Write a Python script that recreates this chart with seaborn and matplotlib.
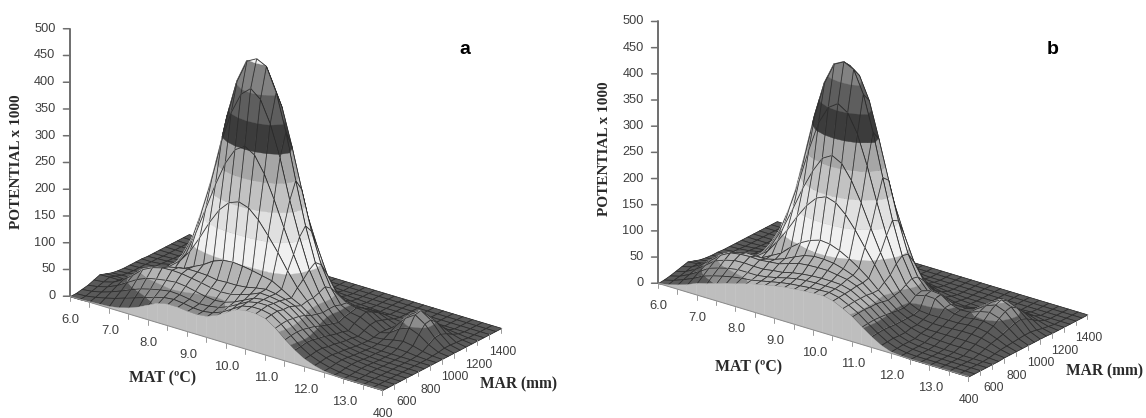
import numpy as np
import seaborn as sns
import matplotlib
matplotlib.use("Agg")
import matplotlib.pyplot as plt
from mpl_toolkits.mplot3d import proj3d
from mpl_toolkits.mplot3d.art3d import Poly3DCollection

sns.set_theme(style="white")
plt.rcParams['font.family'] = ['Liberation Sans', 'DejaVu Sans']

# grid: MAT every 0.25, MAR every 50
mat_values = [6 + 0.25 * k for k in range(33)]
mar_values = [400 + 50 * k for k in range(21)]

# rows go from MAR 400 to MAR 1400
potential_a = [
    [0,0,1,2,3,6,11,18,27,36,40,40,38,37,39,46,57,68,72,72,68,56,40,26,15,8,3,1,0,0,0,0,0],
    [0,1,4,8,13,19,25,31,37,42,44,42,39,38,41,48,59,70,74,74,70,58,42,27,16,9,4,1,0,0,0,0,0],
    [2,4,8,14,21,29,36,41,45,48,47,44,41,42,45,52,62,72,76,76,71,59,43,29,18,11,6,3,1,0,0,0,0],
    [4,7,12,20,31,42,50,54,57,59,57,53,49,47,49,55,64,73,76,74,68,57,42,28,18,11,7,4,2,1,0,0,0],
    [8,10,15,25,39,55,64,69,70,69,66,63,59,57,58,63,69,77,76,73,68,55,39,25,15,9,6,4,2,1,0,0,0],
    [12,13,13,23,36,49,59,65,69,72,72,71,68,69,69,71,75,78,75,70,63,51,36,23,14,8,4,2,1,0,0,0,0],
    [8,9,8,15,24,38,48,55,62,71,80,92,99,101,99,96,92,88,78,67,58,45,31,19,11,6,3,1,0,0,0,0,0],
    [4,5,6,11,20,30,50,65,88,119,153,182,201,208,202,185,161,135,106,80,61,42,27,16,9,4,2,1,0,0,0,0,0],
    [2,3,6,11,20,31,49,73,117,167,218,263,294,306,295,265,223,176,131,90,61,39,24,14,8,3,1,0,0,0,0,0,0],
    [1,2,4,9,17,31,57,95,152,216,292,352,392,408,393,353,295,221,158,102,65,40,20,10,5,2,2,3,4,3,1,0,0],
    [1,2,5,9,18,34,65,107,170,250,335,405,448,458,449,406,337,252,173,110,70,40,25,18,10,3,5,9,12,9,4,1,0],
    [1,2,4,8,17,32,60,98,157,230,305,372,415,430,415,372,305,230,157,100,62,36,27,24,15,6,11,24,31,24,11,2,0],
    [1,1,3,7,13,25,46,76,122,175,231,280,317,330,317,280,231,175,122,76,46,34,30,28,16,5,18,38,50,38,18,4,0],
    [0,1,2,4,8,15,29,47,76,109,144,174,197,205,197,174,144,109,76,47,29,24,24,22,12,3,19,40,52,40,19,4,0],
    [0,0,1,2,4,8,15,24,39,56,74,89,101,105,101,89,74,56,39,24,15,14,16,15,8,2,14,30,39,30,14,3,0],
    [0,0,0,1,2,3,6,10,17,24,32,38,43,45,43,38,32,24,17,10,6,6,7,6,3,1,7,15,20,15,7,2,0],
    [0,0,0,0,0,1,2,3,6,8,11,13,14,15,14,13,11,8,6,3,2,1,0,0,0,0,2,4,5,4,2,0,0],
    [0,0,0,0,0,0,0,1,2,3,3,4,5,5,5,4,3,3,2,1,0,0,0,0,0,0,0,0,0,0,0,0,0],
    [0,0,0,0,0,0,0,0,0,0,1,1,2,2,2,1,1,0,0,0,0,0,0,0,0,0,0,0,0,0,0,0,0],
    [0,0,0,0,0,0,0,0,0,0,0,0,0,0,0,0,0,0,0,0,0,0,0,0,0,0,0,0,0,0,0,0,0],
    [0,0,0,0,0,0,0,0,0,0,0,0,0,0,0,0,0,0,0,0,0,0,0,0,0,0,0,0,0,0,0,0,0],
]

potential_b = [
    [0,3,8,14,22,27,33,39,44,49,54,58,62,65,67,69,70,71,67,58,48,34,21,10,3,1,0,0,0,0,0,0,0],
    [1,6,13,21,31,37,42,46,49,51,55,59,63,66,68,70,71,72,68,59,49,35,22,11,4,1,0,0,0,0,0,0,0],
    [3,8,17,28,40,46,51,54,54,54,57,61,66,70,72,73,73,73,69,60,50,36,23,12,5,2,1,0,0,0,0,0,0],
    [6,11,21,34,48,55,60,61,60,60,63,65,70,73,75,76,76,75,70,60,49,35,22,11,5,2,1,0,0,0,0,0,0],
    [9,14,24,38,53,63,66,67,66,68,70,76,82,84,85,85,82,79,72,60,49,34,21,11,5,3,2,1,1,0,0,0,0],
    [12,14,22,36,50,58,63,62,62,67,74,83,91,95,95,93,88,81,72,58,47,32,21,14,9,7,6,5,5,5,3,1,0],
    [8,8,15,25,36,45,49,53,63,73,90,104,114,120,118,111,101,89,75,58,44,30,21,14,11,11,11,11,11,10,7,3,1],
    [4,7,10,18,26,35,46,60,84,111,142,169,189,197,191,174,150,122,95,67,47,29,21,18,16,16,17,18,18,16,11,5,1],
    [2,4,6,10,16,29,47,72,105,147,191,229,259,270,260,233,196,153,112,75,49,32,24,22,22,22,22,24,24,21,14,6,1],
    [1,2,4,8,16,28,54,87,136,193,258,315,350,363,351,316,261,197,139,90,56,41,47,46,34,28,27,30,31,27,17,7,1],
    [1,2,4,8,17,33,62,101,162,238,318,385,427,437,428,386,319,238,162,100,62,44,50,48,35,30,31,38,42,36,22,8,1],
    [0,2,4,8,16,32,59,97,155,227,300,368,410,424,410,368,300,227,155,97,59,38,35,33,27,27,31,43,50,43,26,9,1],
    [0,1,3,7,13,25,46,76,122,175,231,280,317,330,317,280,231,175,122,76,46,27,18,16,17,21,30,44,54,46,28,9,1],
    [0,0,2,4,8,16,29,48,78,111,147,178,202,210,202,178,147,111,78,48,29,16,8,8,9,12,24,38,46,38,23,7,1],
    [0,0,1,2,4,8,15,25,41,58,77,94,106,110,106,94,77,58,41,25,15,8,4,2,4,7,15,25,31,25,15,4,0],
    [0,0,0,1,2,4,7,11,18,25,34,41,46,48,46,41,34,25,18,11,7,4,2,1,0,3,7,13,16,13,7,2,0],
    [0,0,0,0,0,1,2,4,6,9,12,14,15,16,15,14,12,9,6,4,2,1,0,0,0,0,2,5,6,5,2,0,0],
    [0,0,0,0,0,0,0,1,2,3,4,4,5,5,5,4,4,3,2,1,0,0,0,0,0,0,0,0,1,0,0,0,0],
    [0,0,0,0,0,0,0,0,0,0,1,1,2,2,2,1,1,0,0,0,0,0,0,0,0,0,0,0,0,0,0,0,0],
    [0,0,0,0,0,0,0,0,0,0,0,0,0,0,0,0,0,0,0,0,0,0,0,0,0,0,0,0,0,0,0,0,0],
    [0,0,0,0,0,0,0,0,0,0,0,0,0,0,0,0,0,0,0,0,0,0,0,0,0,0,0,0,0,0,0,0,0],
]

z_ticks = [0, 50, 100, 150, 200, 250, 300, 350, 400, 450, 500]
mat_ticks = [6, 7, 8, 9, 10, 11, 12, 13]
mar_ticks = [400, 600, 800, 1000, 1200, 1400]

# shading of the surface, the low ground gets its own darker grey
band_levels = [0, 32, 50, 100, 150, 200, 250, 300, 350, 400, 450, 520]
band_greys = ['#5a5a5a', '#8c8c8c', '#b4b4b4', '#f0f0f0', '#e0e0e0', '#c2c2c2',
              '#a6a6a6', '#3c3c3c', '#5e5e5e', '#828282', '#f4f4f4']
line_col = '#2b2b2b'
axis_col = '#6e6e6e'
text_col = '#3f3f3f'


def clip_above(pts, level, keep_above):
    # cut a polygon at a height, keeps the part on one side
    out = []
    for k in range(len(pts)):
        p, q = pts[k], pts[(k + 1) % len(pts)]
        p_in = p[2] >= level if keep_above else p[2] <= level
        q_in = q[2] >= level if keep_above else q[2] <= level
        if p_in:
            out.append(p)
        if p_in != q_in:
            t = (level - p[2]) / (q[2] - p[2])
            out.append((p[0] + t * (q[0] - p[0]), p[1] + t * (q[1] - p[1]), level))
    return out


def draw_surface(ax, z):
    order = 1
    # far corner first, low MAT and high MAR is at the back
    for j in range(len(mar_values) - 2, -1, -1):
        for i in range(len(mat_values) - 1):
            quad = [(mat_values[i], mar_values[j], z[j, i]),
                    (mat_values[i + 1], mar_values[j], z[j, i + 1]),
                    (mat_values[i + 1], mar_values[j + 1], z[j + 1, i + 1]),
                    (mat_values[i], mar_values[j + 1], z[j + 1, i])]
            polys, cols = [], []
            for b in range(len(band_greys)):
                part = clip_above(quad, band_levels[b], True)
                if part:
                    part = clip_above(part, band_levels[b + 1], False)
                if len(part) >= 3:
                    polys.append(part)
                    cols.append(band_greys[b])
            fill = Poly3DCollection(polys, facecolors=cols, edgecolors=cols, linewidths=0.25)
            fill.set_zorder(order)
            ax.add_collection3d(fill)
            mesh = Poly3DCollection([quad], facecolors=(0, 0, 0, 0), edgecolors=line_col, linewidths=0.55)
            mesh.set_zorder(order + 1)
            ax.add_collection3d(mesh)
            order += 2

    # light wall under the front edge
    wall = []
    for i in range(len(mat_values) - 1):
        wall.append([(mat_values[i], 400, 0), (mat_values[i + 1], 400, 0),
                     (mat_values[i + 1], 400, z[0, i + 1]), (mat_values[i], 400, z[0, i])])
    skirt = Poly3DCollection(wall, facecolors='#bebebe', edgecolors='#bebebe', linewidths=0.25)
    skirt.set_zorder(order)
    ax.add_collection3d(skirt)
    return order + 1


def tick_text(ax, x, y, z, s, size, ha='center'):
    # plain 2d text at the projected spot of the 3d point
    px, py, _ = proj3d.proj_transform(x, y, z, ax.get_proj())
    ax.text2D(px, py, s, transform=ax.transData, ha=ha, va='center', fontsize=size, color=text_col)


def draw_axes(ax, order):
    ax.plot([6, 6], [400, 400], [0, 500], color=axis_col, lw=1.4, zorder=order)
    ax.plot([6, 14], [400, 400], [0, 0], color='#8a8a8a', lw=0.7, zorder=order)
    for t in z_ticks:
        ax.plot([6, 5.9], [400, 381], [t, t], color=axis_col, lw=1.1, zorder=order)
        tick_text(ax, 5.77, 357, t, str(t), 9.2, ha='right')
    for m in np.arange(6, 14.01, 0.5):
        ax.plot([m, m], [400, 400], [0, -9], color='#9a9a9a', lw=0.7, zorder=order)
    for m in mat_ticks:
        tick_text(ax, m + 0.03, 400, -43, f"{m:.1f}", 9.4)
    for r in range(400, 1401, 100):
        ax.plot([14, 14], [r, r], [0, -9], color='#9a9a9a', lw=0.7, zorder=order)
    for r in mar_ticks:
        tick_text(ax, 14.03, r, -45, str(r), 8.8)


def make_panel(rect, box, z):
    ax = fig.add_axes(rect, projection='3d', computed_zorder=False)
    ax.set_proj_type('ortho')
    ax.view_init(elev=23.3, azim=-52.8)
    ax.set_box_aspect(box)
    ax.set_xlim(6, 14, view_margin=0)
    ax.set_ylim(400, 1400, view_margin=0)
    ax.set_zlim(0, 500, view_margin=0)
    # own ticks are drawn below, so the built in ones go
    ax.set_xticks([])
    ax.set_yticks([])
    ax.set_zticks([])
    ax.set_axis_off()
    order = draw_surface(ax, z)
    draw_axes(ax, order)
    return ax


fig = plt.figure(figsize=(11.46, 4.18), dpi=100)
W, H = 1146, 418

make_panel([22.8 / W, -23 / H, 511.5 / W, 511.5 / H], (392, 197, 291), np.array(potential_a, dtype=float))
make_panel([612.5 / W, -10 / H, 506.4 / W, 506.4 / H], (390, 197, 285), np.array(potential_b, dtype=float))

# labels placed in figure pixels
def label(x, y, s, **kw):
    fig.text(x / W, 1 - y / H, s, ha='center', va='center', **kw)


serif = dict(family='Liberation Serif', weight='bold', color='#2a2a2a')
label(17, 162, "POTENTIAL x 1000", rotation=90, fontsize=11, **serif)
label(604, 149, "POTENTIAL x 1000", rotation=90, fontsize=11, **serif)
label(163, 378, "MAT (ºC)", fontsize=11.4, **serif)
label(749, 367, "MAT (ºC)", fontsize=11.4, **serif)
label(518, 384, "MAR (mm)", fontsize=11.2, **serif)
label(1105, 371, "MAR (mm)", fontsize=11.2, **serif)
label(465, 50, "a", fontsize=14, weight='bold', color='black')
label(1053, 50, "b", fontsize=14, weight='bold', color='black')

fig.savefig("out.png", dpi=100)
